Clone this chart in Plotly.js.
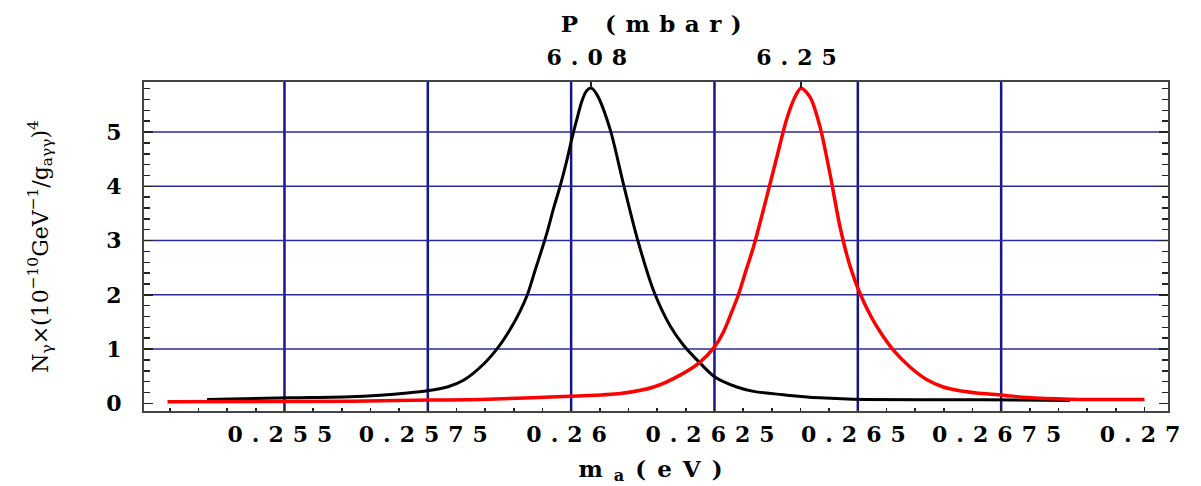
<!DOCTYPE html>
<html>
<head>
<meta charset="utf-8">
<script src="https://cdn.plot.ly/plotly-3.0.1.min.js"></script>
<style>
  html, body { margin: 0; padding: 0; background: #ffffff; }
  #chart { width: 1201px; height: 486px; }
  .xtick text, .x2tick text { letter-spacing: 9px; }
  .g-xtitle text { letter-spacing: 11px; }
  .g-x2title text { letter-spacing: 9.5px; }
</style>
</head>
<body>
<div id="chart"></div>
<script>
// ---- data ----
const blackMass = [0.25365, 0.25510, 0.25615, 0.25667, 0.25714, 0.25749, 0.25784, 0.25813, 0.25847, 0.25874,
                   0.25894, 0.25911, 0.25924, 0.25938, 0.25949, 0.25958, 0.25969, 0.25981, 0.25993, 0.26001,
                   0.26010, 0.26019, 0.26027, 0.26035, 0.26045, 0.26068, 0.26091, 0.26115, 0.26144,
                   0.26173, 0.26196, 0.26225, 0.26250, 0.26289, 0.26318, 0.26376, 0.26434, 0.26492, 0.26720,
                   0.26870];
const blackCounts = [0.07, 0.10, 0.12, 0.15, 0.19, 0.23, 0.30, 0.43, 0.72, 1.05,
                     1.37, 1.70, 2.01, 2.48, 2.84, 3.15, 3.58, 4.01, 4.50, 4.87,
                     5.24, 5.58, 5.76, 5.81, 5.69, 5.05, 4.05, 3.05, 2.07,
                     1.42, 1.07, 0.74, 0.49, 0.30, 0.22, 0.15, 0.10, 0.075, 0.065,
                     0.05];

const redMass = [0.25296, 0.25615, 0.25754, 0.25842, 0.25998, 0.26086, 0.26144, 0.26190, 0.26225, 0.26250,
                 0.26265, 0.26280, 0.26292, 0.26305, 0.26318, 0.26330, 0.26341, 0.26359, 0.26376, 0.26391,
                 0.26401, 0.26417, 0.26434, 0.26452, 0.26469, 0.26487, 0.26504, 0.26523, 0.26540, 0.26562,
                 0.26591, 0.26620, 0.26649, 0.26678, 0.26707, 0.26754, 0.26795, 0.26870, 0.27000];
const redCounts = [0.03, 0.04, 0.06, 0.07, 0.13, 0.18, 0.30, 0.52, 0.76, 1.04,
                   1.30, 1.68, 2.01, 2.45, 2.88, 3.35, 3.80, 4.55, 5.24, 5.66,
                   5.81, 5.64, 5.10, 4.20, 3.25, 2.51, 2.02, 1.60, 1.30, 0.98,
                   0.67, 0.44, 0.30, 0.23, 0.19, 0.15, 0.105, 0.075, 0.068];

const massTickVals = [0.255, 0.2575, 0.26, 0.2625, 0.265, 0.2675, 0.27];
const massTickText = ['0.255', '0.2575', '0.26', '0.2625', '0.265', '0.2675', '0.27'];
const massGridVals = [0.255, 0.2575, 0.26, 0.2625, 0.265, 0.2675];
const countTickVals = [0, 1, 2, 3, 4, 5];
const countGridVals = [1, 2, 3, 4, 5];
const pressureTickPos = [0.26035, 0.26401];
const pressureTickText = ['6.08', '6.25'];

const massRange = [0.25255, 0.27041];
const countRange = [-0.142, 5.923];

// ---- chart ----
const FONT = 'DejaVu Serif, Liberation Serif, serif';
const traces = [
  { x: blackMass, y: blackCounts, type: 'scatter', mode: 'lines', xaxis: 'x', yaxis: 'y',
    line: { color: '#000000', width: 3, shape: 'spline', smoothing: 0.8 },
    hoverinfo: 'skip', showlegend: false },
  // red curve is attached to the top (pressure) axis, which shares the mass range
  { x: redMass, y: redCounts, type: 'scatter', mode: 'lines', xaxis: 'x2', yaxis: 'y',
    line: { color: '#ff0000', width: 3.5, shape: 'spline', smoothing: 0.8 },
    hoverinfo: 'skip', showlegend: false }
];

const gridShapes = []
  .concat(massGridVals.map(v => ({
    type: 'line', xref: 'x', yref: 'paper', x0: v, x1: v, y0: 0, y1: 1, layer: 'below',
    line: { color: '#16168c', width: 2.5 }
  })))
  .concat(countGridVals.map(v => ({
    type: 'line', xref: 'paper', yref: 'y', x0: 0, x1: 1, y0: v, y1: v, layer: 'below',
    line: { color: '#2a2a9a', width: 1.5 }
  })));

const tickFont = { family: FONT, size: 22, color: '#000000', weight: 'bold' };
const titleFont = { family: FONT, size: 23, color: '#000000', weight: 'bold' };

const layout = {
  width: 1201, height: 486,
  margin: { l: 144, r: 33, t: 82, b: 75, pad: 0 },
  paper_bgcolor: '#ffffff', plot_bgcolor: '#ffffff',
  font: { family: FONT, color: '#000000' },
  showlegend: false,
  shapes: gridShapes,
  xaxis: {
    range: massRange, tickmode: 'array', tickvals: massTickVals, ticktext: massTickText,
    ticks: 'inside', ticklen: 4, tickwidth: 1.5, tickcolor: '#222222',
    showgrid: false, zeroline: false,
    showline: true, linecolor: '#444444', linewidth: 2, mirror: true,
    minor: { dtick: 0.0005, tick0: 0.255, ticks: 'inside', ticklen: 3, tickwidth: 1.5, tickcolor: '#222222', showgrid: false },
    tickfont: tickFont,
    ticklabelstandoff: 3,
    title: { text: 'm<sub>a</sub>(eV)', font: titleFont, standoff: 14 },
    automargin: false, fixedrange: true
  },
  xaxis2: {
    overlaying: 'x', anchor: 'y', side: 'top', range: massRange,
    tickmode: 'array', tickvals: pressureTickPos, ticktext: pressureTickText,
    ticks: 'inside', ticklen: 6, tickwidth: 1.5, tickcolor: '#222222',
    showgrid: false, zeroline: false, showline: false,
    tickfont: tickFont,
    ticklabelstandoff: 12,
    title: { text: 'P (mbar)', font: titleFont, standoff: 4 },
    automargin: false, fixedrange: true
  },
  yaxis: {
    range: countRange, tickmode: 'array', tickvals: countTickVals,
    ticks: 'inside', ticklen: 9, tickwidth: 1.5, tickcolor: '#222222',
    showgrid: false, zeroline: false,
    showline: true, linecolor: '#444444', linewidth: 2, mirror: 'ticks',
    minor: { dtick: 0.2, tick0: 0, ticks: 'inside', ticklen: 6, tickwidth: 1.5, tickcolor: '#222222', showgrid: false },
    tickfont: { family: FONT, size: 22, color: '#000000', weight: 'bold' },
    ticklabelstandoff: 16,
    title: { text: 'N<sub>γ</sub>×(10<sup>−10</sup>GeV<sup>−1</sup>/g<sub>aγγ</sub>)<sup>4</sup>',
             font: { family: FONT, size: 22, color: '#000000' }, standoff: 52 },
    automargin: false, fixedrange: true
  }
};

Plotly.newPlot('chart', traces, layout, { staticPlot: true, displayModeBar: false });
</script>
</body>
</html>
